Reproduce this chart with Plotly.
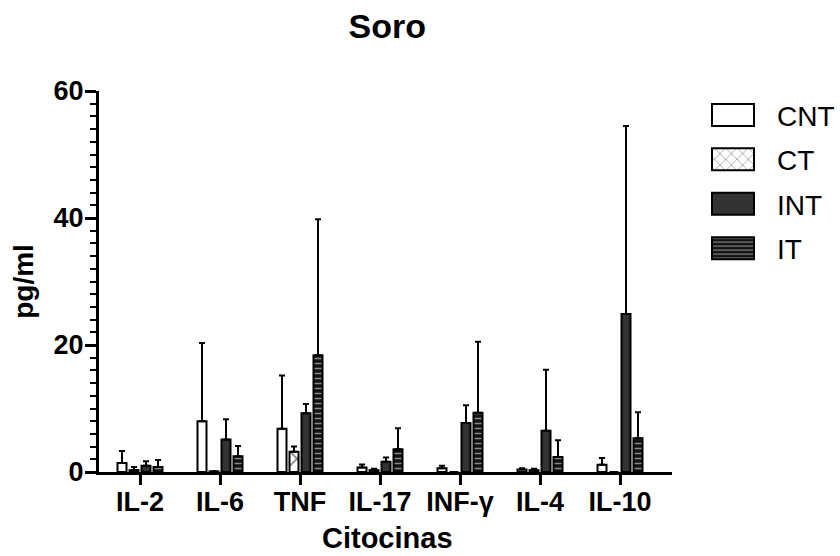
import plotly.graph_objects as go

categories = ["IL-2", "IL-6", "TNF", "IL-17", "INF-γ", "IL-4", "IL-10"]

cnt_vals = [1.4, 8.0, 6.8, 0.7, 0.6, 0.4, 1.15]
cnt_err = [1.9, 12.3, 8.4, 0.5, 0.4, 0.2, 1.05]
ct_vals = [0.3, 0.1, 3.2, 0.3, 0.0, 0.3, 0.0]
ct_err = [0.5, 0.0, 0.8, 0.2, 0.0, 0.2, 0.0]
int_vals = [1.0, 5.1, 9.25, 1.6, 7.7, 6.5, 24.9]
int_err = [0.7, 3.2, 1.45, 0.7, 2.8, 9.6, 29.6]
it_vals = [0.8, 2.5, 18.4, 3.6, 9.35, 2.35, 5.3]
it_err = [1.1, 1.6, 21.4, 3.3, 11.15, 2.65, 4.1]

series = [
    ("CNT", cnt_vals, cnt_err, dict(color="white")),
    ("CT", ct_vals, ct_err, dict(color="white", pattern=dict(shape="x", fgcolor="black", bgcolor="white", size=20, solidity=0.15))),
    ("INT", int_vals, int_err, dict(color="#333333")),
    ("IT", it_vals, it_err, dict(color="#111111", pattern=dict(shape="-", fgcolor="white", bgcolor="#111111", size=5, solidity=0.3))),
]

FONT = "Liberation Sans, Arial, sans-serif"

fig = go.Figure()
for name, vals, err, mk in series:
    fig.add_trace(go.Bar(
        name=name, x=categories, y=vals, legendgroup=name,
        marker=dict(line=dict(color="black", width=2), **mk),
        error_y=dict(type="data", symmetric=False, array=err,
                     arrayminus=[0] * len(err), color="black",
                     thickness=2, width=3),
    ))

fig.update_layout(
    width=840, height=556,
    margin=dict(l=99, r=168, t=91, b=84, autoexpand=False),
    paper_bgcolor="white", plot_bgcolor="white",
    barmode="group", bargap=0.4, bargroupgap=0.25,
    title=dict(text="Soro", x=0.461, xanchor="center", y=0.953, yref="container",
               yanchor="middle", font=dict(family=FONT, size=34, color="black", weight="bold")),
    legend=dict(x=1.0436, y=1.002, xanchor="left", yanchor="top",
                font=dict(family=FONT, size=28, color="black"),
                itemwidth=70, tracegroupgap=5, bgcolor="rgba(0,0,0,0)"),
    showlegend=True,
    annotations=[dict(text="Citocinas", xref="paper", yref="paper", x=0.503, y=-0.125,
                      xanchor="center", yanchor="top", showarrow=False,
                      font=dict(family=FONT, size=29, color="black", weight="bold"))],
)
fig.update_xaxes(
    type="category", range=[-0.5125, 6.65], automargin=False,
    showline=True, linecolor="black", linewidth=3,
    ticks="outside", ticklen=10, tickwidth=3, tickcolor="black",
    ticklabelstandoff=-6,
    tickfont=dict(family=FONT, size=27, color="black", weight="bold"),
    showgrid=False, zeroline=False,
)
fig.update_yaxes(
    range=[0, 60], dtick=20, tick0=0, automargin=False,
    showline=True, linecolor="black", linewidth=3,
    ticks="outside", ticklen=11, tickwidth=3, tickcolor="black",
    ticklabelstandoff=-4,
    minor=dict(dtick=2, ticks="outside", ticklen=6, tickwidth=2, tickcolor="black", showgrid=False),
    tickfont=dict(family=FONT, size=27, color="black", weight="bold"),
    title=dict(text="pg/ml", standoff=12,
               font=dict(family=FONT, size=28, color="black", weight="bold")),
    showgrid=False, zeroline=False,
)

post = """
document.body.style.margin = '0';
document.body.style.padding = '0';
var gd = document.querySelector('.plotly-graph-div');
function fixLegend(){
  document.querySelectorAll('.legend .legendpoints path').forEach(function(p){
    p.setAttribute('d', 'M17,11H-25V-11H17Z');
  });
}
fixLegend();
if (gd && gd.on) { gd.on('plotly_afterplot', fixLegend); }
"""
fig.write_html("out.html", post_script=post, config={"displayModeBar": False})
